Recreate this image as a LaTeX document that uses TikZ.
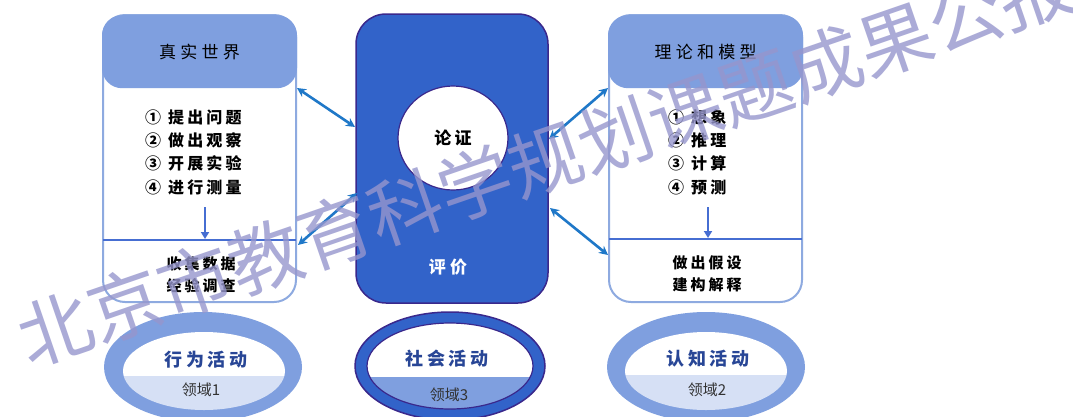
\documentclass[tikz,border=0pt]{standalone}
\usepackage{fontspec}
\setmainfont{Noto Sans CJK SC}
\newfontfamily\cjksp[LetterSpace=20]{Noto Sans CJK SC}
\newfontfamily\cjkwide[LetterSpace=25]{Noto Sans CJK SC}
\usetikzlibrary{arrows.meta,calc,shapes.geometric}
\definecolor{hdr}{RGB}{127,159,223}
\definecolor{boxline}{RGB}{142,170,224}
\definecolor{divline}{RGB}{70,110,210}
\definecolor{cfill}{RGB}{50,99,201}
\definecolor{cline}{RGB}{58,40,140}
\definecolor{arr}{RGB}{31,120,200}
\definecolor{lightfill}{RGB}{214,224,245}
\definecolor{titleblue}{RGB}{40,70,150}
\definecolor{wm}{RGB}{150,150,205}
\definecolor{txtgray}{RGB}{50,50,50}
\tikzset{
  sidebox/.style={draw=boxline, line width=2pt, rounded corners=22pt, fill=white,
    minimum width=193pt, minimum height=287pt, inner sep=0pt},
  headbox/.style={fill=hdr, rounded corners=20pt, minimum width=195pt,
    minimum height=73pt, inner sep=0pt, font=\cjkwide\fontsize{17}{17}\selectfont},
  listitem/.style={anchor=west, inner sep=0pt, font=\cjksp\bfseries\fontsize{16}{16}\selectfont},
  lowtext/.style={align=center, inner sep=0pt, font=\cjksp\bfseries\fontsize{15}{22}\selectfont},
  dbl/.style={{Stealth[length=9pt,width=9pt]}-{Stealth[length=9pt,width=9pt]}, arr, line width=2.6pt},
  downarr/.style={-{Triangle[length=7pt,width=8pt]}, divline, line width=2pt},
  divider/.style={divline, line width=2pt},
  elltitle/.style={inner sep=0pt, text=titleblue, font=\cjksp\bfseries\fontsize{18}{18}\selectfont},
  elldom/.style={inner sep=0pt, text=txtgray, font=\fontsize{15}{15}\selectfont},
}
\begin{document}
\begin{tikzpicture}[x=1pt,y=-1pt]
\useasboundingbox (0,0) rectangle (1073,416);
\begin{scope}
\clip (0,0) rectangle (1073,416);
\fill[white] (0,0) rectangle (1073,416);

% ---------------- left box ----------------
\node[sidebox] (lbox) at (199.5,158.5) {};
\node[headbox, anchor=north] (lhead) at ($(lbox.north)+(0,1)$) {真实世界};
\node[listitem] (l1) at (145,117) {① 提出问题};
\node[listitem] (l2) at (145,140) {② 做出观察};
\node[listitem] (l3) at (145,163) {③ 开展实验};
\node[listitem] (l4) at (145,187) {④ 进行测量};
\coordinate (ldivw) at (103,240);
\coordinate (ldive) at (296,240);
\draw[divider] (ldivw) -- (ldive);
\coordinate (larrs) at (205,207);
\coordinate (larre) at (205,239);
\draw[downarr] (larrs) -- (larre);
\node[lowtext] (lbot) at (201,275) {收集数据\\经验调查};

% ---------------- right box ----------------
\node[sidebox] (rbox) at (705.5,158.5) {};
\node[headbox, anchor=north] (rhead) at ($(rbox.north)+(0,1)$) {理论和模型};
\node[listitem] (r1) at (668,117) {① 想象};
\node[listitem] (r2) at (668,140) {② 推理};
\node[listitem] (r3) at (668,163) {③ 计算};
\node[listitem] (r4) at (668,187) {④ 预测};
\coordinate (rdivw) at (609,239);
\coordinate (rdive) at (802,239);
\draw[divider] (rdivw) -- (rdive);
\coordinate (rarrs) at (708,207);
\coordinate (rarre) at (708,238);
\draw[downarr] (rarrs) -- (rarre);
\node[lowtext] (rbot) at (707,273.5) {做出假设\\建构解释};

% ---------------- centre box ----------------
\node[draw=cline, fill=cfill, line width=1.5pt, rounded corners=30pt,
  minimum width=192pt, minimum height=289pt, inner sep=0pt] (cbox) at (452,158.5) {};
\node[ellipse, draw=cline, fill=white, line width=1.2pt, minimum width=110pt,
  minimum height=104pt, inner sep=0pt, font=\cjksp\bfseries\fontsize{17}{17}\selectfont] (arg) at (453,138) {论证};
\node[inner sep=0pt, text=white, font=\cjkwide\bfseries\fontsize{17}{17}\selectfont] (eval) at (448,267) {评价};

% ---------------- connectors ----------------
\coordinate (a1s) at (297,88);
\coordinate (a1e) at (355,127);
\coordinate (a2s) at (298,245);
\coordinate (a2e) at (357,193);
\coordinate (a3s) at (549,139);
\coordinate (a3e) at (608,88);
\coordinate (a4s) at (550,208);
\coordinate (a4e) at (608,255);
\draw[dbl] (a1s) -- (a1e);
\draw[dbl] (a2s) -- (a2e);
\draw[dbl] (a3s) -- (a3e);
\draw[dbl] (a4s) -- (a4e);

% ---------------- ellipses ----------------
% left
\fill[hdr] (203,367) ellipse [x radius=99, y radius=55];
\begin{scope}
\clip (204,371) ellipse [x radius=81, y radius=39];
\fill[white] (100,300) rectangle (310,376);
\fill[lightfill] (100,376) rectangle (310,430);
\end{scope}
\node[elltitle] (lt) at (206,360) {行为活动};
\node[elldom] (ld) at (201,390) {领域1};
% centre
\filldraw[fill=cfill, draw=cline, line width=1.5pt] (450,366) ellipse [x radius=95, y radius=54];
\begin{scope}
\clip (450,366) ellipse [x radius=83, y radius=43];
\fill[white] (350,300) rectangle (550,377);
\fill[hdr] (350,377) rectangle (550,430);
\end{scope}
\draw[cline, line width=1.2pt] (450,366) ellipse [x radius=83, y radius=43];
\node[elltitle] (ct) at (447,359) {社会活动};
\node[elldom] (cd) at (449,395) {领域3};
% right
\fill[hdr] (706,367) ellipse [x radius=99, y radius=55];
\begin{scope}
\clip (706,371) ellipse [x radius=81, y radius=39];
\fill[white] (600,300) rectangle (812,375);
\fill[lightfill] (600,375) rectangle (812,430);
\end{scope}
\node[elltitle] (rt) at (708,359) {认知活动};
\node[elldom] (rd) at (707,390) {领域2};

% ---------------- watermark ----------------
\node[rotate=19, text=wm, opacity=0.8, inner sep=0pt,
  font=\fontsize{74}{74}\selectfont] (wmk) at (545,160) {北京市教育科学规划课题成果公报};
\end{scope}
\end{tikzpicture}
\end{document}
